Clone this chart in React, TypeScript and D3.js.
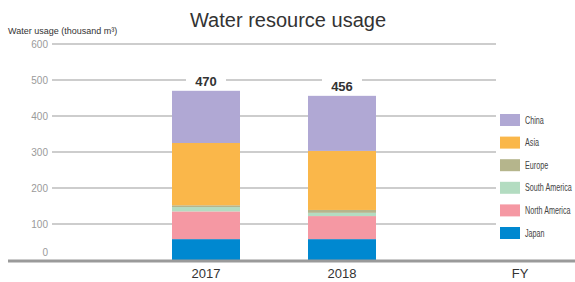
import { useEffect, useRef } from "react";
import * as d3 from "d3";

const YEARS = ["2017", "2018"];
const REGIONS = ["Japan", "North America", "South America", "Europe", "Asia", "China"];
const COLORS = ["#0088d0", "#f598a3", "#b3dcc1", "#b5b58c", "#fab74a", "#b0a8d4"];
const JAPAN = [58, 58];
const NORTH_AMERICA = [77, 64];
const SOUTH_AMERICA = [12, 9];
const EUROPE = [5, 8];
const ASIA = [173, 164];
const CHINA = [145, 153];
const TOTALS = [470, 456];
const Y_TICKS = [0, 100, 200, 300, 400, 500, 600];

const W = 575, H = 282;

export default function App() {
  const svgRef = useRef<SVGSVGElement>(null);

  useEffect(() => {
    if (!svgRef.current) return;
    const svg = d3.select(svgRef.current);
    svg.selectAll("*").remove();

    const series = [JAPAN, NORTH_AMERICA, SOUTH_AMERICA, EUROPE, ASIA, CHINA];
    const rows = YEARS.map((yr, i) => {
      const r: Record<string, number | string> = { year: yr };
      REGIONS.forEach((reg, k) => (r[reg] = series[k][i]));
      return r;
    });
    const stacked = d3.stack<Record<string, number | string>>().keys(REGIONS)(rows as any);

    const x = d3.scaleBand().domain(YEARS).range([138, 410]).paddingInner(0.5).paddingOuter(0.25);
    const y = d3.scaleLinear().domain([0, 600]).range([260, 44]);
    const font = "'Liberation Sans', Arial, sans-serif";

    // title + y label
    svg.append("text").attr("x", 288).attr("y", 27).attr("text-anchor", "middle")
      .attr("font-family", font).attr("font-size", 20).attr("fill", "#333").text("Water resource usage");
    svg.append("text").attr("x", 8).attr("y", 34)
      .attr("font-family", font).attr("font-size", 9).attr("fill", "#333")
      .text("Water usage (thousand m³)");

    // grid
    svg.append("g").selectAll("line").data(Y_TICKS.filter(t => t > 0)).join("line")
      .attr("x1", 52).attr("x2", 496).attr("y1", d => y(d)).attr("y2", d => y(d))
      .attr("stroke", "#bdbdbd").attr("stroke-width", 1.3);
    svg.append("g").selectAll("text").data(Y_TICKS).join("text")
      .attr("x", 48).attr("y", d => (d === 0 ? y(d) - 8 : y(d)) + 3.5).attr("text-anchor", "end")
      .attr("font-family", font).attr("font-size", 10).attr("fill", "#9a9a9a").text(d => d);

    // bars
    svg.append("g").selectAll("g").data(stacked).join("g")
      .attr("fill", (_, i) => COLORS[i])
      .selectAll("rect").data(d => d).join("rect")
      .attr("x", d => x(String(d.data.year))!).attr("width", x.bandwidth())
      .attr("y", d => y(d[1])).attr("height", d => y(d[0]) - y(d[1]));

    // totals
    const tg = svg.append("g").selectAll("g").data(YEARS).join("g");
    tg.append("rect")
      .attr("x", d => x(d)! + x.bandwidth() / 2 - 20).attr("width", 40)
      .attr("y", (_, i) => y(TOTALS[i]) - 18).attr("height", 14).attr("fill", "#fff");
    tg.append("text")
      .attr("x", d => x(d)! + x.bandwidth() / 2).attr("y", (_, i) => y(TOTALS[i]) - 5)
      .attr("text-anchor", "middle").attr("font-family", font).attr("font-size", 13)
      .attr("font-weight", 600).attr("fill", "#333").text((_, i) => TOTALS[i]);

    // baseline
    svg.append("line").attr("x1", 8).attr("x2", W).attr("y1", 261).attr("y2", 261)
      .attr("stroke", "#9a9a9a").attr("stroke-width", 3);

    svg.append("g").selectAll("text").data(YEARS).join("text")
      .attr("x", d => x(d)! + x.bandwidth() / 2).attr("y", 278).attr("text-anchor", "middle")
      .attr("font-family", font).attr("font-size", 13).attr("fill", "#333").text(d => d);
    svg.append("text").attr("x", 520).attr("y", 278).attr("text-anchor", "middle")
      .attr("font-family", font).attr("font-size", 13).attr("fill", "#333").text("FY");

    // legend (top to bottom: China ... Japan)
    const leg = REGIONS.map((r, i) => ({ r, c: COLORS[i] })).reverse();
    const lg = svg.append("g").selectAll("g").data(leg).join("g")
      .attr("transform", (_, i) => `translate(500,${114 + i * 22.6})`);
    lg.append("rect").attr("width", 20).attr("height", 12).attr("fill", d => d.c);
    lg.append("text").attr("transform", "translate(25,9.5) scale(0.72,1)")
      .attr("font-family", font)
      .attr("font-size", 10).attr("fill", "#444").text(d => d.r);
  }, []);

  return <svg ref={svgRef} width={W} height={H} style={{ position: "absolute", left: 0, top: 0, background: "#fff" }} />;
}
